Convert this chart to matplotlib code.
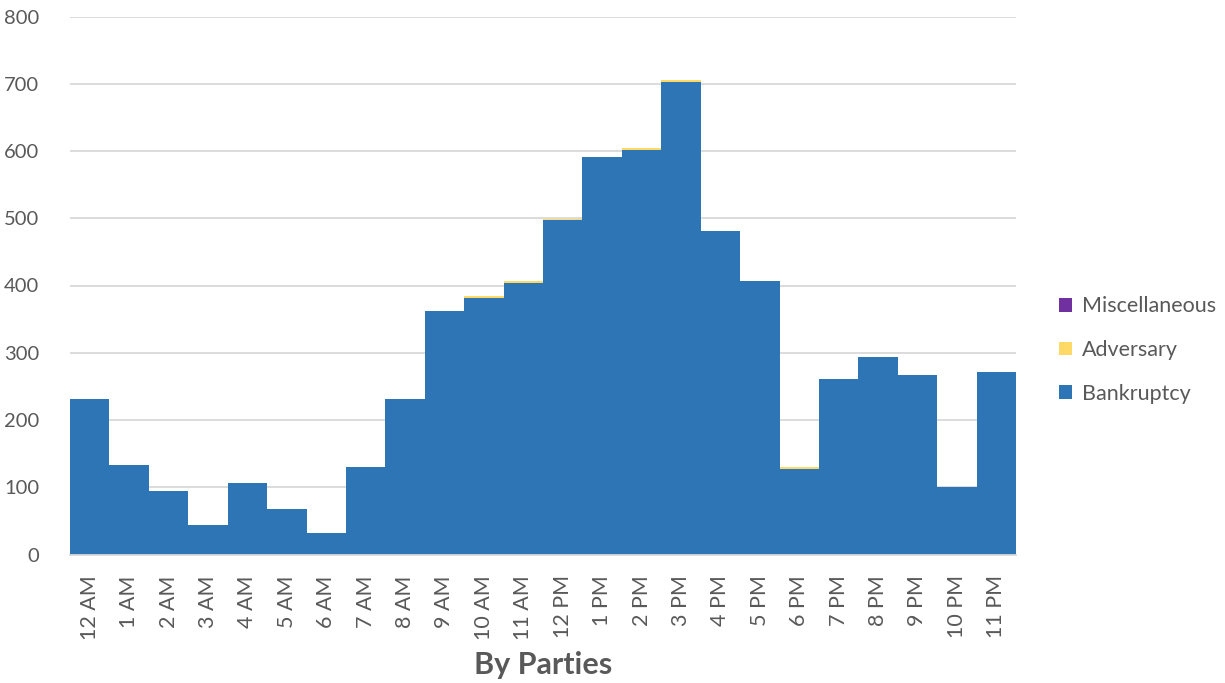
import numpy as np
import matplotlib
matplotlib.use("Agg")
import matplotlib.pyplot as plt

plt.rcParams['font.family'] = ['Lato', 'DejaVu Sans']

hours = ["12 AM", "1 AM", "2 AM", "3 AM", "4 AM", "5 AM", "6 AM", "7 AM",
         "8 AM", "9 AM", "10 AM", "11 AM", "12 PM", "1 PM", "2 PM", "3 PM",
         "4 PM", "5 PM", "6 PM", "7 PM", "8 PM", "9 PM", "10 PM", "11 PM"]
bankruptcy = [231, 133, 94, 44, 106, 68, 32, 130, 231, 362, 382, 403,
              498, 591, 602, 703, 481, 406, 127, 261, 294, 267, 100, 272]
adversary = [0, 0, 0, 0, 0, 0, 0, 0, 0, 0, 3, 3,
             1, 0, 3, 3, 0, 0, 3, 0, 0, 0, 0, 0]
misc = [0] * 24

c_bank = "#2E75B6"
c_adv = "#FFD966"
c_misc = "#7030A0"
grey = "#595959"

x = np.arange(len(hours))
bank = np.array(bankruptcy)
adv = np.array(adversary)

fig = plt.figure(figsize=(12.25, 6.83), dpi=100)
ax = fig.add_axes([70/1225, 1-554.5/683, 946/1225, 538/683])

b1 = ax.bar(x, bank, width=1.0, color=c_bank, linewidth=0, label="Bankruptcy", zorder=3)
b2 = ax.bar(x, adv, width=1.0, bottom=bank, color=c_adv, linewidth=0, label="Adversary", zorder=3)
b3 = ax.bar(x, misc, width=1.0, bottom=bank+adv, color=c_misc, linewidth=0, label="Miscellaneous", zorder=3)

ax.set_xlim(-0.5, 23.5)
ax.set_ylim(0, 800)
ax.set_yticks(range(0, 801, 100))
ax.yaxis.grid(True, color="#D9D9D9", linewidth=1.3, zorder=0)
for s in ["top", "right", "left"]:
    ax.spines[s].set_visible(False)
ax.spines["bottom"].set_color("#D9D9D9")
ax.spines["bottom"].set_linewidth(1.3)
ax.spines["bottom"].set_zorder(4)

ax.set_xticks(x)
ax.set_xticklabels(hours, rotation=90, fontsize=15.5, color=grey)
ax.tick_params(axis="x", length=0, pad=15)
ax.tick_params(axis="y", length=0, pad=22, labelsize=14.5, labelcolor=grey)

ax.set_xlabel("By Parties", fontsize=22, fontweight="bold", color=grey, labelpad=8)

fig.legend(handles=[b3, b2, b1], loc="center left", bbox_to_anchor=(1040/1225, 1-350/683),
           frameon=False, fontsize=15.5, handlelength=0.6, handleheight=0.6,
           handletextpad=0.45, labelspacing=1.1, labelcolor=grey)

fig.savefig("out.png", dpi=100)
